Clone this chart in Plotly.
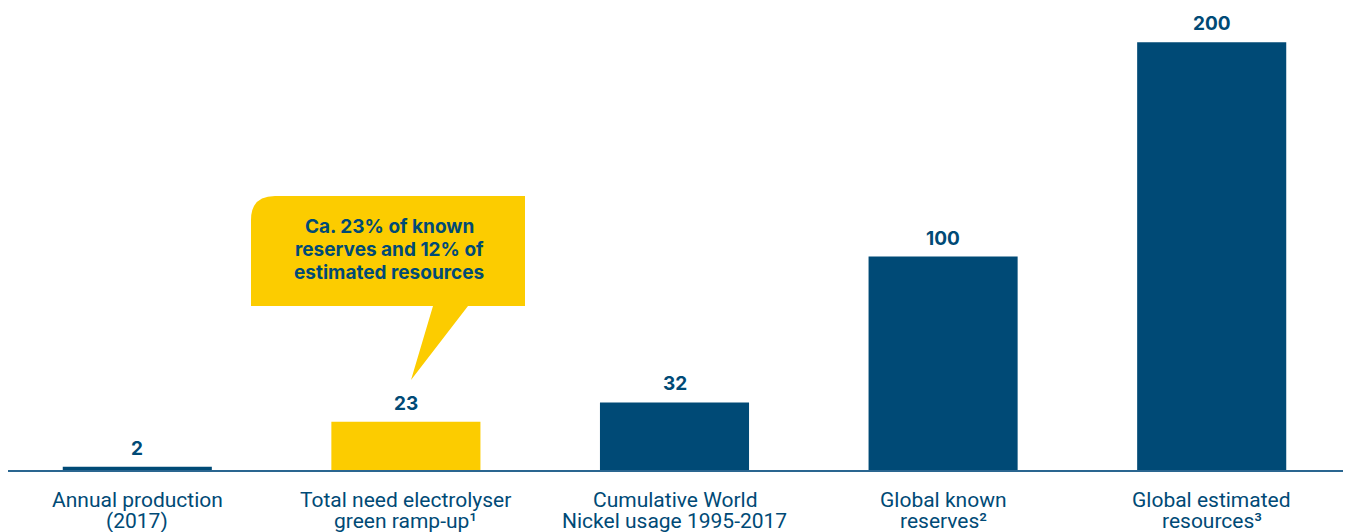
import plotly.graph_objects as go

categories = [
    ["Annual production", "(2017)"],
    ["Total need electrolyser", "green ramp-up¹"],
    ["Cumulative World", "Nickel usage 1995-2017"],
    ["Global known", "reserves²"],
    ["Global estimated", "resources³"],
]
values = [2, 23, 32, 100, 200]
value_labels = ["2", "23", "32", "100", "200"]
highlight = [False, True, False, False, False]
callout_lines = ["Ca. 23% of known", "reserves and 12% of", "estimated resources"]

NAVY = "#004a76"
YELLOW = "#fccc00"
W, H = 1349, 532
ML, MR, MT, MB = 3, 3, 10, 61


def px(x, y):
    # pixel position -> paper coordinates
    return (x - ML) / (W - ML - MR), (H - MB - y) / (H - MT - MB)


colors = [YELLOW if h else NAVY for h in highlight]
xs = list(range(len(values)))

fig = go.Figure(
    go.Bar(
        x=xs,
        y=values,
        marker_color=colors,
        marker_line_width=0,
        width=0.555,
        hoverinfo="skip",
    )
)

for i, (v, lab) in enumerate(zip(values, value_labels)):
    fig.add_annotation(
        x=i, y=v, text=f"<b>{lab}</b>", showarrow=False,
        yanchor="bottom", yshift=5,
        font=dict(family="Inter", size=19, color=NAVY),
    )

for i, lines in enumerate(categories):
    for k, line in enumerate(lines):
        fig.add_annotation(
            x=i, y=0, yref="paper", text=line, showarrow=False,
            yanchor="middle", yshift=-29 - 21 * k,
            font=dict(family="Roboto", size=21, color=NAVY),
        )

# baseline
x0, y0 = px(8, 471)
x1, _ = px(1343, 471)
fig.add_shape(type="line", xref="paper", yref="paper", x0=x0, x1=x1, y0=y0, y1=y0,
              line=dict(color="#2a6690", width=2))

# callout bubble
r = 24
pts = [px(251 + r, 196), px(525, 196), px(525, 306), px(468, 306), px(411, 380),
       px(433, 306), px(251, 306), px(251, 196 + r)]
path = f"M {pts[0][0]},{pts[0][1]}"
for p in pts[1:]:
    path += f" L {p[0]},{p[1]}"
c = px(251, 196)
path += f" Q {c[0]},{c[1]} {pts[0][0]},{pts[0][1]} Z"
fig.add_shape(type="path", xref="paper", yref="paper", path=path,
              fillcolor=YELLOW, line=dict(width=0), layer="above")

for k, line in enumerate(callout_lines):
    cx, cy = px(389, 226 + 23 * k)
    fig.add_annotation(
        x=cx, y=cy, xref="paper", yref="paper", text=f"<b>{line}</b>",
        showarrow=False, xanchor="center", yanchor="middle",
        font=dict(family="Inter", size=19, color=NAVY),
    )

fig.update_layout(
    width=W, height=H,
    margin=dict(l=ML, r=MR, t=MT, b=MB),
    plot_bgcolor="white", paper_bgcolor="white",
    showlegend=False,
    xaxis=dict(range=[-0.5, 4.5], visible=False),
    yaxis=dict(range=[0, 215], visible=False),
)

fig.write_html(
    "out.html",
    config={"displayModeBar": False},
    post_script="document.body.style.margin='0';",
)
